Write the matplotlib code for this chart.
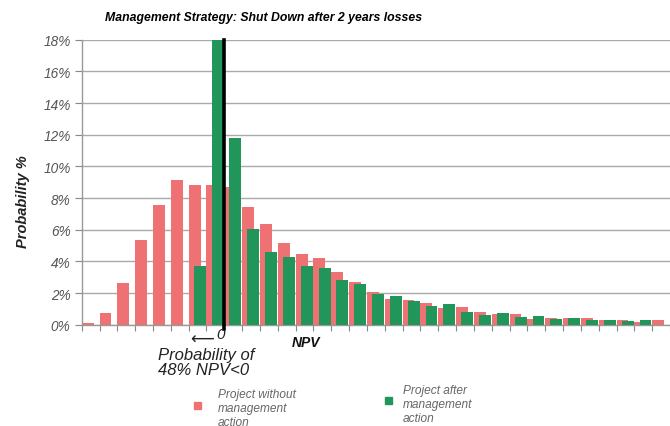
import numpy as np
import matplotlib
matplotlib.use("Agg")
import matplotlib.pyplot as plt

plt.rcParams['font.family'] = ['Liberation Sans', 'DejaVu Sans']

# probability (%) per NPV bucket
without_action = [0.1, 0.74, 2.63, 5.37, 7.58, 9.16, 8.84, 8.83, 8.7, 7.41,
                  6.36, 5.14, 4.45, 4.19, 3.31, 2.72, 2.09, 1.62, 1.58, 1.37,
                  1.03, 1.09, 0.82, 0.70, 0.68, 0.36, 0.42, 0.40, 0.40, 0.32,
                  0.27, 0.19, 0.27]
after_action = [0, 0, 0, 0, 0, 0, 3.70, 19.0, 11.8, 6.05,
                4.57, 4.26, 3.69, 3.56, 2.80, 2.57, 1.94, 1.79, 1.48, 1.16,
                1.31, 0.82, 0.63, 0.76, 0.51, 0.55, 0.36, 0.40, 0.32, 0.32,
                0.21, 0.32, 0]
yticks = [0, 2, 4, 6, 8, 10, 12, 14, 16, 18]
zero_bucket = 7.5

RED = '#EE7274'
GREEN = '#22955B'
W, H = 670, 427

fig = plt.figure(figsize=(W / 100, H / 100), dpi=100)
ax = fig.add_axes([81.7 / W, 101.3 / H, 1 - 81.7 / W, 285 / H])

x = np.arange(len(without_action))
ax.bar(x - 0.5, without_action, width=0.667, align='edge', color=RED, zorder=2)
ax.bar(x - 0.5 + 0.29, after_action, width=0.667, align='edge', color=GREEN, zorder=3)
ax.axvline(zero_bucket, ymin=-0.016, ymax=1, color='black', lw=2.6, zorder=4, clip_on=False)

ax.set_ylim(0, 18)
ax.set_xlim(-0.5, 32.06)
ax.set_yticks(yticks)
ax.set_yticklabels([f'{v}%' for v in yticks], fontstyle='italic', color='#555555', fontsize=9.8)
ax.set_xticks(np.arange(-0.5, len(without_action), 1))
ax.set_xticklabels([])
ax.tick_params(axis='x', length=4, color='#888888', width=0.8)
ax.tick_params(axis='y', length=5, color='#888888', width=0.8, pad=3)
ax.grid(axis='y', color='#AAAAAA', lw=1, zorder=0)
for s in ['top', 'right']:
    ax.spines[s].set_visible(False)
for s in ['left', 'bottom']:
    ax.spines[s].set_color('#999999')
    ax.spines[s].set_linewidth(1)

def fx(px):
    return px / W

def fy(py):
    return 1 - py / H

fig.text(fx(105), fy(18), 'Management Strategy: Shut Down after 2 years losses',
         fontsize=8.8, fontweight='bold', fontstyle='italic', va='center', ha='left')
fig.text(fx(23), fy(202), 'Probability %', rotation=90, fontsize=10.5,
         fontweight='bold', fontstyle='italic', va='center', ha='center', color='#222222')
fig.text(fx(202), fy(340), '\u27f5', fontsize=12, family=['DejaVu Sans'],
         va='center', ha='center', color='#222222')
fig.text(fx(221), fy(335), '0', fontsize=11, fontstyle='italic',
         va='center', ha='center', color='#222222')
fig.text(fx(158), fy(363), 'Probability of\n48% NPV<0', fontsize=12, fontstyle='italic',
         va='center', ha='left', linespacing=1.0, color='#222222')
fig.text(fx(292), fy(343), 'NPV', fontsize=10, fontweight='bold', fontstyle='italic',
         va='center', ha='left', color='#111111')

# legend
fig.patches.append(plt.Rectangle((fx(194), fy(410)), 7 / W, 7 / H, color=RED,
                                 transform=fig.transFigure, figure=fig))
fig.patches.append(plt.Rectangle((fx(385), fy(405)), 7 / W, 7 / H, color=GREEN,
                                 transform=fig.transFigure, figure=fig))
fig.text(fx(218), fy(389), 'Project without\nmanagement\naction', fontsize=8.6,
         fontstyle='italic', va='top', ha='left', linespacing=1.22, color='#666666')
fig.text(fx(403), fy(385), 'Project after\nmanagement\naction', fontsize=8.6,
         fontstyle='italic', va='top', ha='left', linespacing=1.22, color='#666666')

fig.savefig('out.png', dpi=100)
